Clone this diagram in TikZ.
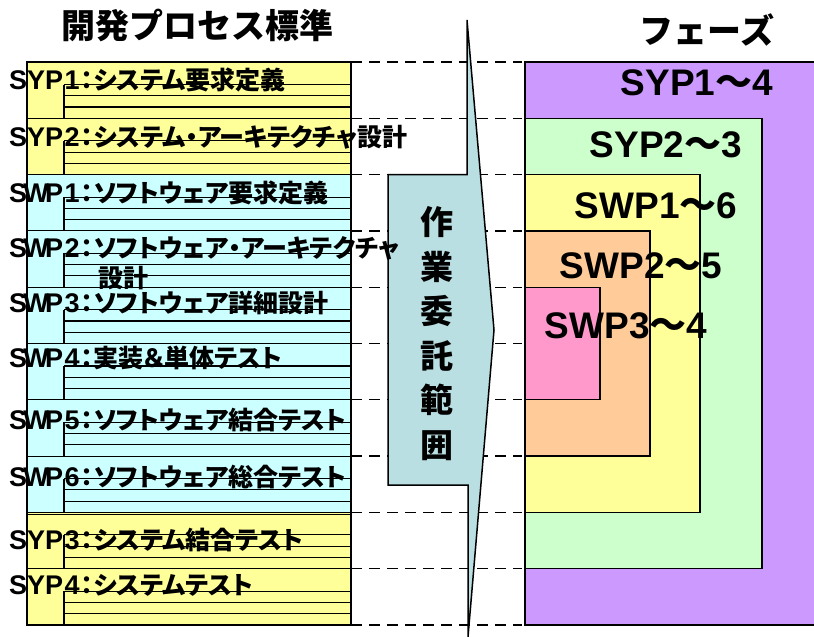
\documentclass[tikz,border=0pt]{standalone}
\usepackage{fontspec}
\setmainfont{Liberation Sans}
\newfontfamily\lat{Liberation Sans}
\newfontfamily\jp{Noto Sans CJK JP}
\newfontfamily\jpp{Noto Sans CJK JP}[RawFeature=+palt]
\definecolor{purpC}{HTML}{CC99FF}
\definecolor{greenC}{HTML}{CCFFCC}
\definecolor{yelC}{HTML}{FFFF99}
\definecolor{oraC}{HTML}{FFCC99}
\definecolor{pinkC}{HTML}{FF99CC}
\definecolor{cyanC}{HTML}{CCFFFF}
\definecolor{arrowC}{HTML}{BADFE3}
\newcommand{\mkc}[1]{\makebox[18pt][c]{\lat\fontsize{27}{28}\selectfont #1}}
\newcommand{\lbl}[5]{\mkc{#1}\mkc{#2}\mkc{#3}\mkc{#4}{\jpp #5}}
\newcommand{\phs}[2]{{\lat #1}{\jp ～}{\lat #2}}
\tikzset{
  blk/.style={draw=black, line width=1.1pt},
  guide/.style={draw=black, line width=1.3pt, dash pattern=on 11pt off 7pt},
  nest/.style={draw=black, line width=1.3pt},
  lab/.style={anchor=west, inner sep=0pt, font=\bfseries\fontsize{25}{27}\selectfont},
  phase/.style={inner sep=0pt, font=\bfseries\fontsize{37}{40}\selectfont},
  head/.style={inner sep=0pt, font=\jp\bfseries\fontsize{34}{36}\selectfont},
}
\begin{document}
\begin{tikzpicture}[x=1pt,y=-1pt]
\useasboundingbox (0,0) rectangle (814,637);
\clip (0,0) rectangle (814,637);
% dashed guides
\foreach \i in {0,...,10}{
  \pgfmathsetmacro{\yy}{62+\i*56.3}
  \coordinate (gs\i) at (351,\yy);
  \coordinate (ge\i) at (522,\yy);
  \draw[guide] (gs\i) -- (ge\i);
}
% nested phase boxes
\filldraw[nest, fill=purpC] (525,62) rectangle (830,625);
\filldraw[nest, fill=greenC] (525,118.3) rectangle (762,568.7);
\filldraw[nest, fill=yelC] (525,174.6) rectangle (700,512.4);
\filldraw[nest, fill=oraC] (525,230.9) rectangle (650,456.1);
\filldraw[nest, fill=pinkC] (525,287.2) rectangle (600,399.8);
\node[phase] (p1) at (697,83) {\phs{SYP1}{4}};
\node[phase] (p2) at (666,145) {\phs{SYP2}{3}};
\node[phase] (p3) at (656,206) {\phs{SWP1}{6}};
\node[phase] (p4) at (641,266) {\phs{SWP2}{5}};
\node[phase] (p5) at (626,326) {\phs{SWP3}{4}};
% arrow callout
\filldraw[fill=arrowC, draw=black, line width=1.5pt, line join=miter]
  (388,174.6) -- (467,174.6) -- (467,20) -- (494,330) -- (468,637) -- (468,485) -- (388,485) -- cycle;
\node[inner sep=0pt, align=center, font=\jp\bfseries\fontsize{33}{44.6}\selectfont] (scope) at (437,333.5) {作\\業\\委\\託\\範\\囲};
% process blocks
\foreach \i/\c in {0/yelC,1/yelC,2/cyanC,3/cyanC,4/cyanC,5/cyanC,6/cyanC,7/cyanC,8/yelC,9/yelC}{
  \pgfmathsetmacro{\tt}{62+\i*56.3}
  \pgfmathsetmacro{\bb}{62+(\i+1)*56.3}
  \filldraw[blk, fill=\c] (27,\tt) rectangle (351,\bb);
  \draw[blk] (64,\tt+22.5) -- (64,\bb);
  \foreach \f in {22.5,33.8,45}{
    \draw[blk] (64,\tt+\f) -- (351,\tt+\f);
  }
}
\draw[blk] (27,514.5) -- (351,514.5);
% labels
\node[lab] (l1) at (9,80) {\lbl SYP1{：システム要求定義}};
\node[lab] (l2) at (9,137) {\lbl SYP2{：システム・アーキテクチャ設計}};
\node[lab] (l3) at (9,193) {\lbl SWP1{：ソフトウェア要求定義}};
\node[lab] (l4) at (9,248) {\lbl SWP2{：ソフトウェア・アーキテクチャ}};
\node[lab] (l4b) at (98,278) {{\jpp 設計}};
\node[lab] (l5) at (9,303) {\lbl SWP3{：ソフトウェア詳細設計}};
\node[lab] (l6) at (9,358) {\lbl SWP4{：実装＆単体テスト}};
\node[lab] (l7) at (9,420) {\lbl SWP5{：ソフトウェア結合テスト}};
\node[lab] (l8) at (9,477) {\lbl SWP6{：ソフトウェア総合テスト}};
\node[lab] (l9) at (9,540) {\lbl SYP3{：システム結合テスト}};
\node[lab] (l10) at (9,585) {\lbl SYP4{：システムテスト}};
% headings
\node[head] (h1) at (197,25) {開発プロセス標準};
\node[head] (h2) at (707,30) {フェーズ};
\end{tikzpicture}
\end{document}
